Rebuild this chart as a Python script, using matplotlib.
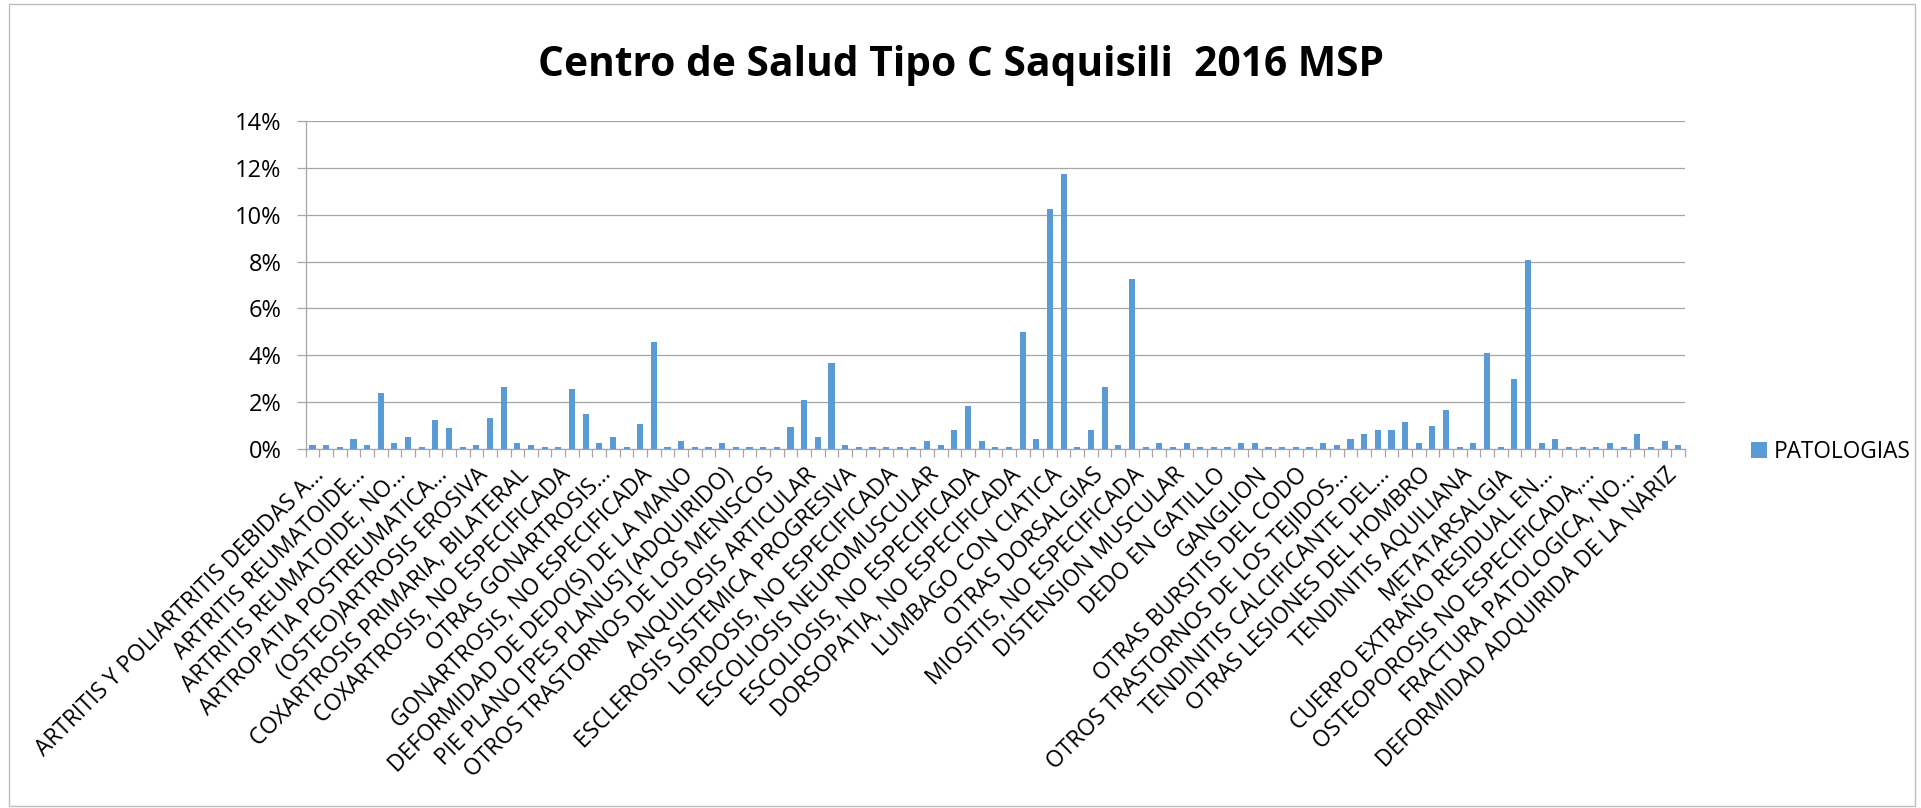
import numpy as np
import matplotlib
matplotlib.use("Agg")
import matplotlib.pyplot as plt
from matplotlib.patches import Rectangle

# porcentaje de cada patologia (101 categorias)
valores = [0.17, 0.17, 0.085, 0.44, 0.17, 2.38, 0.27, 0.53, 0.085, 1.24,
           0.88, 0.085, 0.17, 1.32, 2.63, 0.27, 0.17, 0.085, 0.085, 2.55,
           1.49, 0.27, 0.53, 0.085, 1.07, 4.55, 0.085, 0.36, 0.085, 0.085,
           0.27, 0.085, 0.085, 0.085, 0.085, 0.95, 2.09, 0.51, 3.67, 0.17,
           0.085, 0.085, 0.085, 0.085, 0.085, 0.36, 0.17, 0.80, 1.85, 0.36,
           0.085, 0.085, 4.99, 0.44, 10.24, 11.74, 0.085, 0.80, 2.63, 0.17,
           7.27, 0.085, 0.27, 0.085, 0.27, 0.085, 0.085, 0.085, 0.27, 0.27,
           0.085, 0.085, 0.085, 0.085, 0.27, 0.17, 0.44, 0.63, 0.80, 0.80,
           1.14, 0.27, 0.97, 1.66, 0.085, 0.27, 4.11, 0.085, 2.99, 8.07,
           0.27, 0.44, 0.085, 0.085, 0.085, 0.27, 0.085, 0.63, 0.085, 0.36,
           0.17]

# solo se ve una etiqueta cada tres categorias
etiquetas = ["ARTRITIS Y POLIARTRITIS DEBIDAS A...",
             "ARTRITIS REUMATOIDE...",
             "ARTRITIS REUMATOIDE, NO...",
             "ARTROPATIA POSTREUMATICA...",
             "(OSTEO)ARTROSIS EROSIVA",
             "COXARTROSIS PRIMARIA, BILATERAL",
             "COXARTROSIS, NO ESPECIFICADA",
             "OTRAS GONARTROSIS...",
             "GONARTROSIS, NO ESPECIFICADA",
             "DEFORMIDAD DE DEDO(S) DE LA MANO",
             "PIE PLANO [PES PLANUS] (ADQUIRIDO)",
             "OTROS TRASTORNOS DE LOS MENISCOS",
             "ANQUILOSIS ARTICULAR",
             "ESCLEROSIS SISTEMICA PROGRESIVA",
             "LORDOSIS, NO ESPECIFICADA",
             "ESCOLIOSIS NEUROMUSCULAR",
             "ESCOLIOSIS, NO ESPECIFICADA",
             "DORSOPATIA, NO ESPECIFICADA",
             "LUMBAGO CON CIATICA",
             "OTRAS DORSALGIAS",
             "MIOSITIS, NO ESPECIFICADA",
             "DISTENSION MUSCULAR",
             "DEDO EN GATILLO",
             "GANGLION",
             "OTRAS BURSITIS DEL CODO",
             "OTROS TRASTORNOS DE LOS TEJIDOS...",
             "TENDINITIS CALCIFICANTE DEL...",
             "OTRAS LESIONES DEL HOMBRO",
             "TENDINITIS AQUILIANA",
             "METATARSALGIA",
             "CUERPO EXTRAÑO RESIDUAL EN...",
             "OSTEOPOROSIS NO ESPECIFICADA,...",
             "FRACTURA PATOLOGICA, NO...",
             "DEFORMIDAD ADQUIRIDA DE LA NARIZ"]
pos_etiquetas = list(range(0, len(valores), 3))

y_ticks = [0, 2, 4, 6, 8, 10, 12, 14]

plt.rcParams['font.family'] = ['Open Sans', 'DejaVu Sans']
gris = '#a6a6a6'

fig = plt.figure(figsize=(19.21, 8.08), dpi=100)
ax = fig.add_axes([0.1591, 0.4443, 0.7181, 0.4059])

x = np.arange(len(valores))
ax.bar(x, valores, width=0.45, color='#5b9bd5', zorder=3, label='PATOLOGIAS')

ax.set_xlim(-0.5, len(valores) - 0.5)
ax.set_ylim(0, 14)
ax.set_yticks(y_ticks)
ax.set_yticklabels([f"{v}%" for v in y_ticks], fontsize=17)
ax.yaxis.grid(True, color=gris, linewidth=0.9, zorder=0)

# marcas entre categorias
ax.set_xticks(np.arange(-0.5, len(valores), 1))
ax.set_xticklabels([])
ax.set_xticks(pos_etiquetas, minor=True)
ax.set_xticklabels(etiquetas, minor=True, fontsize=16.4, rotation=45,
                   ha='right', va='top', rotation_mode='anchor')
ax.tick_params(axis='x', which='major', length=5.8, width=0.9, color=gris, direction='out')
ax.tick_params(axis='x', which='minor', length=0, pad=10)
ax.tick_params(axis='y', length=6.5, width=0.9, color=gris, pad=11)

for s in ['top', 'right']:
    ax.spines[s].set_visible(False)
for s in ['left', 'bottom']:
    ax.spines[s].set_color(gris)
    ax.spines[s].set_linewidth(0.9)

fig.text(0.500, 1 - 76 / 808, "Centro de Salud Tipo C Saquisili  2016 MSP",
         ha='center', va='baseline', fontsize=29.3, fontweight='bold')

fig.legend(loc='center left', bbox_to_anchor=(1740 / 1921, 1 - 452 / 808),
           frameon=False, fontsize=16.3, handlelength=0.7, handleheight=0.7,
           handletextpad=0.3, borderpad=0)

# marco del grafico
fig.patches.append(Rectangle((9 / 1921, 2 / 808), 1906 / 1921, 802 / 808,
                             transform=fig.transFigure, fill=False,
                             edgecolor='#bfbfbf', linewidth=1))

fig.savefig("out.png", dpi=100)
